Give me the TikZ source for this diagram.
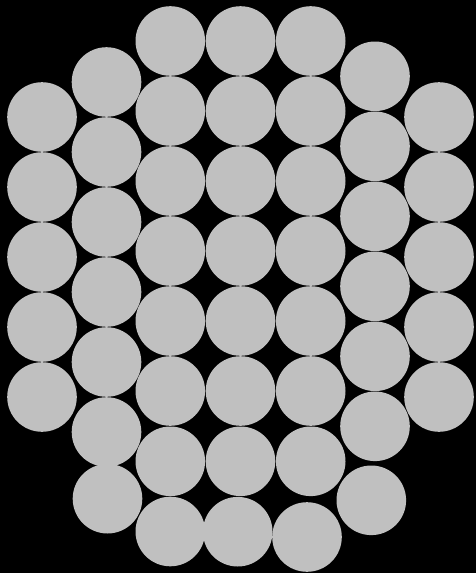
\documentclass[tikz,border=0pt]{standalone}
\definecolor{disk}{HTML}{C0C0C0}
\begin{document}
\begin{tikzpicture}[x=1pt,y=-1pt,wire/.style={fill=disk}]
\fill[black] (0,0) rectangle (476,573);
\useasboundingbox (0,0) rectangle (476,573);
\def\r{34.8}
% column 1
\foreach \y in {117,187,257,327,397} \fill[wire] (42,\y) circle (\r);
% column 2
\foreach \y in {82,152,222,292,362,432} \fill[wire] (106.5,\y) circle (\r);
\fill[wire] (107.5,498.7) circle (\r);
% column 3
\foreach \y in {41,111,181,251,321,391,461.3,531.5} \fill[wire] (170.3,\y) circle (\r);
% column 4
\foreach \y in {41,111,181,251,321,391,461.3} \fill[wire] (240.5,\y) circle (\r);
\fill[wire] (237.7,531.7) circle (\r);
% column 5
\foreach \y in {41,111,181,251,321,391,461.3} \fill[wire] (310.7,\y) circle (\r);
\fill[wire] (307,537) circle (\r);
% column 6
\foreach \y in {76.3,146.3,216.3,286.3,356.3,426.3} \fill[wire] (375,\y) circle (\r);
\fill[wire] (371.3,500.3) circle (\r);
% column 7
\foreach \y in {117,187,257,327,397} \fill[wire] (439,\y) circle (\r);
\end{tikzpicture}
\end{document}
